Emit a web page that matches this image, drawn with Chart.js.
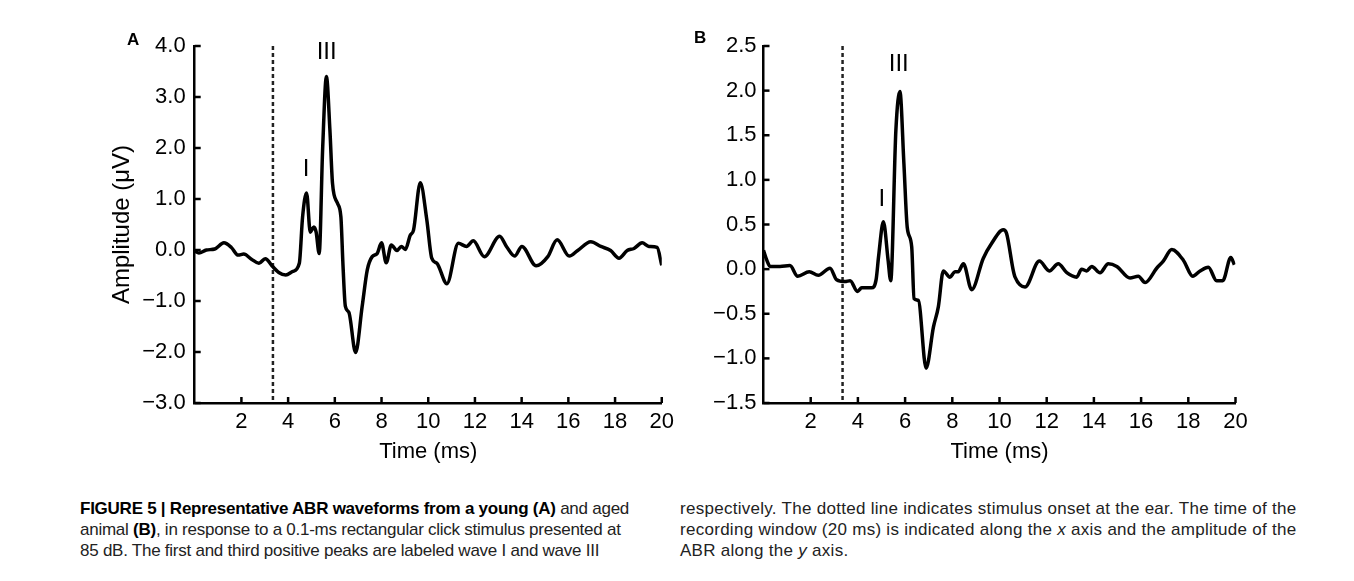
<!DOCTYPE html>
<html>
<head>
<meta charset="utf-8">
<script src="https://cdn.jsdelivr.net/npm/chart.js@4.4.1/dist/chart.umd.min.js"></script>
<style>
    body { margin: 0; background: #fff; width: 1354px; height: 581px; overflow: hidden; position: relative; }
    canvas { position: absolute; top: 0; }
    .letra { position: absolute; font: bold 17px "Liberation Sans", Arial, sans-serif; color: #000; }
    .legenda { position: absolute; top: 498px; font-family: "Liberation Sans Narrow", "Liberation Sans", sans-serif; font-size: 17px; line-height: 21px; color: #222; white-space: nowrap; }
    .legenda b { color: #000; }
</style>
</head>
<body>
<canvas id="graficoA" width="680" height="480" style="left:0px"></canvas>
<canvas id="graficoB" width="674" height="480" style="left:680px"></canvas>
<div class="letra" style="left:127px; top:30px">A</div>
<div class="letra" style="left:694px; top:28px">B</div>
<div class="legenda" style="left:80px; letter-spacing:-0.25px">
    <b>FIGURE 5 | Representative ABR waveforms from a young (A)</b> and aged<br>
    animal <b>(B)</b>, in response to a 0.1-ms rectangular click stimulus presented at<br>
    85 dB. The first and third positive peaks are labeled wave I and wave III
</div>
<div class="legenda" style="left:680px; letter-spacing:0.28px">
    respectively. The dotted line indicates stimulus onset at the ear. The time of the<br>
    recording window (20 ms) is indicated along the <i>x</i> axis and the amplitude of the<br>
    ABR along the <i>y</i> axis.
</div>
<script>
// dados (tempo em ms, amplitude em µV)
const tempoA = [0, 0.18, 0.5, 0.86, 1.25, 1.57, 1.86, 2.1, 2.43, 2.75, 3.02, 3.35, 3.6, 3.9, 4.2, 4.48,
    4.62, 4.79, 4.95, 5.1, 5.2, 5.33, 5.48, 5.64, 5.79, 5.9, 6.11, 6.26, 6.35, 6.45, 6.6, 6.89, 7.17, 7.39,
    7.6, 7.81, 8.0, 8.2, 8.42, 8.66, 8.85, 9.02, 9.23, 9.37, 9.66, 9.94, 10.15, 10.37, 10.8, 11.29, 11.64,
    11.93, 12.4, 13.06, 13.35, 13.7, 14.01, 14.62, 15.12, 15.52, 16.04, 16.4, 16.96, 17.39, 17.81, 18.17,
    18.52, 18.81, 19.16, 19.45, 19.8, 20.0];
const amplitudeA = [-0.02, -0.06, 0.0, 0.02, 0.14, 0.05, -0.1, -0.08, -0.18, -0.26, -0.17, -0.33, -0.44, -0.49, -0.42, -0.26,
    0.65, 1.12, 0.35, 0.45, 0.35, -0.07, 2.0, 3.4, 2.35, 1.31, 0.92, 0.65, -0.3, -1.1, -1.22, -2.01, -1.11, -0.39,
    -0.13, -0.07, 0.14, -0.25, 0.1, -0.01, 0.07, 0.01, 0.29, 0.39, 1.32, 0.59, -0.16, -0.26, -0.66, 0.13, 0.07,
    0.18, -0.13, 0.27, 0.07, -0.12, 0.07, -0.31, -0.13, 0.2, -0.12, -0.01, 0.16, 0.07, -0.01, -0.16,
    -0.01, 0.03, 0.14, 0.07, 0.05, -0.3];

const tempoB = [0, 0.14, 0.28, 0.7, 1.12, 1.45, 1.94, 2.32, 2.82, 3.1, 3.45, 3.67, 3.98, 4.16, 4.58, 4.77,
    4.88, 5.08, 5.28, 5.39, 5.61, 5.78, 5.95, 6.09, 6.28, 6.38, 6.56, 6.89, 7.2, 7.41, 7.62, 7.9, 8.11, 8.25,
    8.47, 8.82, 9.31, 9.67, 10.16, 10.3, 10.58, 10.66, 11.08, 11.69, 12.11, 12.49, 12.85, 13.27, 13.48, 13.69,
    13.91, 14.26, 14.61, 14.97, 15.53, 15.88, 16.17, 16.66, 16.94, 17.3, 17.79, 18.19, 18.5, 18.85, 19.2,
    19.46, 19.8, 19.95];
const amplitudeB = [0.21, 0.1, 0.03, 0.03, 0.04, -0.08, -0.03, -0.07, 0.01, -0.12, -0.14, -0.13, -0.25, -0.21, -0.21, -0.12,
    0.15, 0.53, 0.1, -0.13, 1.56, 1.99, 1.18, 0.47, 0.25, -0.33, -0.35, -1.11, -0.65, -0.42, -0.02, -0.09, -0.03, -0.03,
    0.06, -0.23, 0.12, 0.29, 0.44, 0.4, -0.01, -0.09, -0.2, 0.09, -0.02, 0.06, -0.04, -0.09, 0.0, -0.02,
    0.03, -0.04, 0.06, 0.03, -0.1, -0.08, -0.15, 0.01, 0.09, 0.22, 0.1, -0.08, -0.02, 0.02, -0.13,
    -0.13, 0.13, 0.05];

const ticksX = [2, 4, 6, 8, 10, 12, 14, 16, 18, 20];
const ticksYA = [4, 3, 2, 1, 0, -1, -2, -3];
const ticksYB = [2.5, 2, 1.5, 1, 0.5, 0, -0.5, -1, -1.5];

const estimulo = 3.35; // inicio do estimulo (linha pontilhada)

// rotulos das ondas: [texto, tempo, amplitude]
const ondasA = [["I", 4.77, 1.59], ["III", 5.65, 3.88]];
const ondasB = [["I", 5.01, 0.78], ["III", 5.73, 2.29]];

const fonte = '"Liberation Sans", Arial, sans-serif';

function formatar(v) {
    return v.toFixed(1).replace("-", "\u2212");
}

// marcas de tick pra dentro do grafico + rotulos I / III
const pluginMarcas = {
    id: "marcas",
    afterDraw(chart, args, opts) {
        const ctx = chart.ctx;
        const x = chart.scales.x;
        const y = chart.scales.y;
        ctx.save();
        ctx.strokeStyle = "#000";
        ctx.lineWidth = 2.5;
        x.ticks.forEach(function (t) {
            let px = x.getPixelForValue(t.value);
            ctx.beginPath();
            ctx.moveTo(px, y.bottom);
            ctx.lineTo(px, y.bottom - 6);
            ctx.stroke();
        });
        y.ticks.forEach(function (t) {
            let py = y.getPixelForValue(t.value);
            ctx.beginPath();
            ctx.moveTo(x.left, py);
            ctx.lineTo(x.left + 6, py);
            ctx.stroke();
        });
        ctx.fillStyle = "#000";
        ctx.font = "24px " + fonte;
        ctx.textAlign = "center";
        ctx.textBaseline = "middle";
        opts.ondas.forEach(function (o) {
            ctx.fillText(o[0], x.getPixelForValue(o[1]), y.getPixelForValue(o[2]));
        });
        ctx.restore();
    }
};

function gerarGrafico(idCanvas, tempos, valores, ticksY, ondas, opcoes) {
    const ctx = document.getElementById(idCanvas).getContext("2d");
    const pontos = tempos.map((t, i) => ({ x: t, y: valores[i] }));
    const yMin = ticksY[ticksY.length - 1];
    const yMax = ticksY[0];

    return new Chart(ctx, {
        type: "line",
        data: {
            datasets: [{
                data: pontos,
                borderColor: "#000",
                borderWidth: 3.5,
                pointRadius: 0,
                cubicInterpolationMode: "monotone",
                fill: false
            }, {
                data: [{ x: estimulo, y: yMax }, { x: estimulo, y: yMin }],
                borderColor: "#222",
                borderWidth: 2.5,
                borderDash: [4, 3],
                pointRadius: 0,
                fill: false
            }]
        },
        options: {
            responsive: false,
            animation: false,
            devicePixelRatio: 1,
            layout: { padding: { left: opcoes.padEsq, right: opcoes.padDir, top: 46, bottom: 0 } },
            plugins: {
                legend: { display: false },
                tooltip: { enabled: false },
                marcas: { ondas: ondas }
            },
            scales: {
                x: {
                    type: "linear",
                    min: 0,
                    max: 20,
                    afterBuildTicks: s => { s.ticks = ticksX.map(v => ({ value: v })); },
                    afterFit: s => { s.height = 77; },
                    grid: { display: false, drawTicks: false },
                    border: { display: true, color: "#000", width: 2.5 },
                    ticks: { padding: 6, color: "#000", autoSkip: false, maxRotation: 0, font: { family: fonte, size: 22 } },
                    title: { display: true, text: "Time (ms)", color: "#000", font: { family: fonte, size: 22 }, padding: { top: 0, bottom: 15 } }
                },
                y: {
                    min: yMin,
                    max: yMax,
                    afterBuildTicks: s => { s.ticks = ticksY.map(v => ({ value: v })); },
                    afterFit: s => { s.width = opcoes.larguraY; },
                    grid: { display: false, drawTicks: false },
                    border: { display: true, color: "#000", width: 2.5 },
                    ticks: { padding: opcoes.padTicksY, color: "#000", font: { family: fonte, size: 22 }, callback: v => formatar(v) },
                    title: { display: opcoes.tituloY !== "", text: opcoes.tituloY, color: "#000", font: { family: fonte, size: 24 }, padding: { top: 8, bottom: 0 } }
                }
            }
        },
        plugins: [pluginMarcas]
    });
}

gerarGrafico("graficoA", tempoA, amplitudeA, ticksYA, ondasA,
    { padEsq: 100, padDir: 15.3, larguraY: 94.7, padTicksY: 9, tituloY: "Amplitude (\u03bcV)" });
gerarGrafico("graficoB", tempoB, amplitudeB, ticksYB, ondasB,
    { padEsq: 0, padDir: 118.5, larguraY: 83.5, padTicksY: 7, tituloY: "" });
</script>
</body>
</html>
